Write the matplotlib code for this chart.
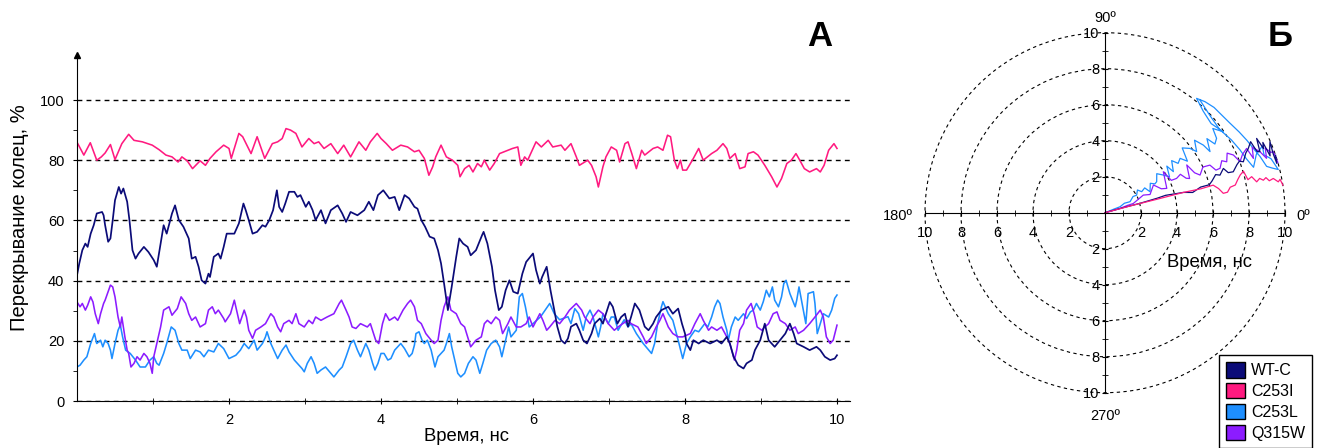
import matplotlib.pyplot as plt
import numpy as np
from matplotlib.patches import Patch
from matplotlib.ticker import FuncFormatter

plt.rcParams['font.family'] = ['Liberation Sans', 'DejaVu Sans']

names = ['WT-C', 'C253I', 'C253L', 'Q315W']
colors = {'WT-C': '#0b0b78', 'C253I': '#ff1a80', 'C253L': '#1e8fff', 'Q315W': '#8c1cff'}

# ring overlap, % vs time, ns
wt_c = [(0.00, 41.8), (0.03, 45.7), (0.07, 50.1), (0.11, 52.3), (0.14, 51.2), (0.18, 55.6), (0.22, 58.4),
        (0.26, 62.3), (0.33, 62.8), (0.35, 61.7), (0.37, 58.4), (0.41, 52.9), (0.44, 54.0), (0.47, 60.1),
        (0.50, 66.7), (0.55, 71.1), (0.58, 68.9), (0.61, 70.6), (0.66, 66.2), (0.69, 60.1), (0.73, 50.1),
        (0.77, 47.3), (0.81, 49.0), (0.88, 51.2), (0.94, 49.5), (1.01, 46.8), (1.05, 44.6), (1.10, 52.3),
        (1.14, 58.4), (1.18, 55.6), (1.25, 62.3), (1.29, 65.0), (1.34, 60.1), (1.40, 57.9), (1.47, 54.0),
        (1.51, 47.3), (1.56, 47.9), (1.60, 44.6), (1.64, 40.1), (1.69, 39.0), (1.73, 42.3), (1.75, 41.2),
        (1.80, 47.9), (1.86, 49.0), (1.89, 47.3), (1.93, 51.2), (1.97, 55.6), (2.07, 55.6), (2.13, 59.0),
        (2.19, 65.6), (2.22, 63.4), (2.26, 60.1), (2.31, 55.6), (2.37, 56.2), (2.44, 58.4), (2.48, 57.9),
        (2.53, 60.1), (2.58, 63.4), (2.63, 70.0), (2.66, 64.5), (2.70, 62.8), (2.74, 65.6), (2.79, 69.5),
        (2.86, 69.5), (2.90, 67.8), (2.94, 68.4), (3.01, 64.5), (3.05, 66.2), (3.10, 63.4), (3.14, 60.1),
        (3.21, 63.4), (3.27, 59.0), (3.34, 63.4), (3.43, 65.0), (3.49, 62.3), (3.54, 59.5), (3.60, 62.8),
        (3.69, 61.7), (3.78, 63.4), (3.84, 66.2), (3.90, 63.4), (3.96, 68.4), (4.03, 70.0), (4.11, 67.3),
        (4.18, 67.8), (4.24, 63.4), (4.31, 68.4), (4.37, 67.3), (4.44, 64.5), (4.48, 63.9), (4.53, 60.1),
        (4.58, 57.9), (4.64, 54.6), (4.70, 54.0), (4.75, 50.1), (4.79, 45.7), (4.83, 39.0), (4.88, 30.2),
        (4.93, 37.9), (4.99, 47.9), (5.03, 54.0), (5.08, 52.3), (5.14, 51.2), (5.18, 48.4), (5.25, 50.1),
        (5.33, 55.1), (5.35, 56.2), (5.40, 52.3), (5.46, 44.6), (5.50, 36.8), (5.55, 30.2), (5.59, 31.3),
        (5.64, 36.8), (5.69, 40.1), (5.74, 36.3), (5.80, 35.7), (5.86, 42.3), (5.91, 46.2), (6.00, 49.0),
        (6.04, 43.5), (6.09, 39.0), (6.12, 41.2), (6.18, 44.6), (6.23, 36.8), (6.28, 30.2), (6.32, 24.7),
        (6.37, 20.2), (6.42, 19.1), (6.46, 20.8), (6.50, 24.7), (6.57, 25.7), (6.61, 23.5), (6.66, 20.2),
        (6.71, 19.1), (6.77, 22.4), (6.81, 25.7), (6.88, 27.4), (6.92, 25.7), (6.96, 29.0), (7.01, 32.9),
        (7.05, 31.3), (7.11, 25.7), (7.16, 27.9), (7.21, 29.0), (7.25, 24.7), (7.29, 27.9), (7.34, 32.4),
        (7.40, 30.2), (7.47, 24.7), (7.52, 23.5), (7.58, 25.7), (7.62, 27.9), (7.69, 30.2), (7.78, 31.3),
        (7.84, 29.0), (7.91, 30.7), (7.96, 25.7), (8.00, 22.4), (8.02, 19.1), (8.07, 16.9), (8.11, 20.2),
        (8.18, 19.1), (8.24, 20.2), (8.33, 19.1), (8.42, 20.2), (8.48, 19.1), (8.55, 21.3), (8.59, 19.1),
        (8.64, 14.7), (8.70, 11.9), (8.77, 10.8), (8.81, 12.5), (8.88, 13.6), (8.92, 16.9), (8.99, 20.2),
        (9.05, 25.7), (9.10, 20.2), (9.18, 18.0), (9.25, 20.2), (9.32, 22.4), (9.38, 25.7), (9.43, 22.4),
        (9.47, 19.1), (9.56, 18.0), (9.64, 16.9), (9.73, 18.0), (9.78, 16.9), (9.84, 14.7), (9.91, 13.6),
        (9.97, 14.1), (10.00, 15.2)]

c253i = [(0.01, 85.5), (0.09, 81.7), (0.175, 85.8), (0.26, 80.0), (0.32, 81.1), (0.37, 82.4), (0.44, 85.2),
         (0.50, 80.2), (0.59, 85.5), (0.68, 88.6), (0.75, 86.6), (0.86, 86.1), (0.99, 85.0), (1.08, 83.5),
         (1.17, 81.7), (1.25, 81.1), (1.33, 79.4), (1.38, 81.1), (1.45, 79.8), (1.52, 77.2), (1.62, 79.8),
         (1.69, 78.3), (1.75, 80.6), (1.83, 82.8), (1.93, 85.0), (2.00, 83.9), (2.03, 80.6), (2.13, 88.9),
         (2.18, 87.8), (2.29, 82.2), (2.37, 87.8), (2.47, 80.6), (2.57, 85.5), (2.64, 86.1), (2.70, 87.2),
         (2.75, 90.5), (2.81, 90.0), (2.88, 88.9), (2.96, 84.4), (3.05, 87.2), (3.12, 85.5), (3.18, 86.1),
         (3.25, 83.9), (3.34, 85.5), (3.43, 82.2), (3.51, 85.0), (3.60, 81.1), (3.71, 86.1), (3.80, 83.3),
         (3.86, 86.1), (3.95, 88.9), (4.00, 87.2), (4.07, 85.5), (4.15, 83.3), (4.26, 85.0), (4.35, 84.4),
         (4.44, 82.8), (4.50, 83.3), (4.57, 80.6), (4.63, 75.0), (4.68, 77.8), (4.72, 81.1), (4.79, 85.0),
         (4.86, 81.1), (4.94, 80.0), (5.01, 78.3), (5.04, 74.5), (5.10, 77.2), (5.16, 78.3), (5.21, 76.1),
         (5.27, 78.9), (5.32, 77.8), (5.36, 80.0), (5.43, 76.7), (5.49, 78.9), (5.56, 82.2), (5.62, 82.8),
         (5.73, 83.9), (5.80, 84.4), (5.84, 78.3), (5.89, 81.1), (5.93, 80.0), (6.00, 83.9), (6.04, 86.1),
         (6.11, 84.4), (6.20, 86.6), (6.26, 84.4), (6.37, 85.0), (6.42, 83.3), (6.50, 85.5), (6.57, 81.1),
         (6.61, 78.3), (6.72, 80.0), (6.77, 78.3), (6.83, 74.5), (6.86, 71.1), (6.92, 77.8), (6.96, 81.1),
         (7.03, 84.4), (7.10, 83.3), (7.14, 79.4), (7.21, 85.5), (7.25, 86.1), (7.30, 82.2), (7.36, 77.2),
         (7.43, 83.3), (7.47, 81.7), (7.58, 83.9), (7.64, 84.4), (7.71, 83.3), (7.77, 88.3), (7.81, 87.8),
         (7.86, 80.0), (7.90, 77.2), (7.94, 80.0), (7.97, 76.7), (8.02, 76.7), (8.11, 80.6), (8.18, 83.9),
         (8.24, 80.0), (8.35, 82.2), (8.42, 83.3), (8.50, 85.5), (8.55, 83.9), (8.59, 80.6), (8.66, 82.2),
         (8.72, 77.2), (8.79, 77.8), (8.83, 82.2), (8.90, 82.8), (8.96, 81.7), (9.05, 78.3), (9.14, 74.5),
         (9.21, 71.1), (9.27, 73.9), (9.34, 78.9), (9.40, 80.0), (9.46, 82.2), (9.51, 80.0), (9.57, 77.2),
         (9.64, 76.1), (9.73, 77.2), (9.78, 76.1), (9.83, 78.3), (9.89, 83.3), (9.96, 85.5), (10.00, 83.9)]

c253l = [(0.00, 11.3), (0.04, 11.9), (0.09, 13.6), (0.13, 14.7), (0.18, 19.1), (0.23, 22.4), (0.26, 19.1),
         (0.31, 20.2), (0.34, 18.0), (0.37, 20.2), (0.41, 19.1), (0.44, 16.9), (0.46, 14.1), (0.50, 19.1),
         (0.54, 23.5), (0.57, 25.2), (0.60, 21.3), (0.64, 16.9), (0.70, 15.8), (0.77, 13.6), (0.83, 11.3),
         (0.90, 11.3), (0.96, 13.6), (1.01, 14.7), (1.05, 12.5), (1.08, 11.9), (1.14, 15.8), (1.18, 19.1),
         (1.24, 24.6), (1.29, 23.5), (1.34, 19.1), (1.38, 16.9), (1.45, 16.9), (1.49, 14.1), (1.56, 16.9),
         (1.62, 16.3), (1.67, 14.7), (1.73, 16.9), (1.80, 16.3), (1.86, 19.1), (1.93, 17.4), (2.00, 14.1),
         (2.09, 15.2), (2.15, 16.9), (2.20, 19.1), (2.26, 17.4), (2.33, 20.2), (2.37, 16.9), (2.44, 19.1),
         (2.48, 21.3), (2.50, 23.0), (2.55, 19.1), (2.59, 16.9), (2.64, 14.1), (2.70, 16.9), (2.75, 18.6),
         (2.79, 16.3), (2.86, 13.6), (2.96, 10.8), (2.99, 9.7), (3.03, 12.5), (3.08, 14.7), (3.12, 12.5),
         (3.16, 9.2), (3.21, 10.3), (3.27, 11.3), (3.34, 9.2), (3.38, 8.0), (3.45, 10.3), (3.49, 11.3),
         (3.54, 14.7), (3.60, 19.1), (3.64, 20.2), (3.69, 16.9), (3.73, 14.7), (3.80, 19.1), (3.84, 16.9),
         (3.89, 12.5), (3.92, 10.3), (3.96, 12.5), (4.00, 15.8), (4.04, 15.8), (4.09, 13.6), (4.13, 14.1),
         (4.18, 16.9), (4.22, 18.0), (4.26, 19.1), (4.31, 17.4), (4.37, 14.7), (4.41, 15.8), (4.44, 18.6),
         (4.46, 22.4), (4.50, 23.0), (4.54, 20.2), (4.57, 19.1), (4.61, 20.2), (4.66, 16.9), (4.69, 13.6),
         (4.71, 11.3), (4.75, 14.7), (4.79, 15.8), (4.83, 16.9), (4.86, 19.1), (4.90, 22.4), (4.93, 18.0),
         (4.96, 14.7), (5.01, 9.2), (5.05, 8.0), (5.10, 9.2), (5.15, 12.5), (5.21, 14.7), (5.25, 13.6),
         (5.30, 9.2), (5.34, 12.5), (5.39, 16.9), (5.45, 19.1), (5.51, 20.2), (5.56, 18.0), (5.59, 14.7),
         (5.64, 20.2), (5.68, 24.6), (5.71, 21.3), (5.78, 23.5), (5.82, 34.6), (5.86, 35.7), (5.90, 31.3),
         (5.95, 24.6), (6.00, 25.7), (6.10, 28.0), (6.22, 32.4), (6.28, 29.0), (6.35, 27.0), (6.46, 28.0),
         (6.50, 25.7), (6.55, 30.7), (6.60, 29.0), (6.66, 23.5), (6.70, 27.9), (6.75, 30.2), (6.79, 27.9),
         (6.86, 21.3), (6.89, 24.6), (6.92, 29.0), (6.99, 25.7), (7.03, 27.9), (7.07, 27.9), (7.12, 23.5),
         (7.20, 27.0), (7.25, 24.6), (7.29, 25.7), (7.36, 22.4), (7.45, 19.1), (7.56, 15.8), (7.60, 19.1),
         (7.64, 25.7), (7.69, 31.3), (7.71, 33.0), (7.78, 29.0), (7.84, 26.8), (7.91, 20.2), (7.97, 14.1),
         (8.02, 19.1), (8.07, 21.3), (8.13, 23.5), (8.18, 23.0), (8.26, 25.7), (8.30, 24.6), (8.35, 27.9),
         (8.39, 31.3), (8.43, 33.5), (8.46, 32.4), (8.50, 27.9), (8.55, 23.5), (8.57, 20.2), (8.61, 24.6),
         (8.66, 27.9), (8.70, 26.8), (8.77, 29.0), (8.81, 27.4), (8.86, 29.6), (8.90, 30.2), (8.94, 32.4),
         (8.99, 30.2), (9.03, 33.0), (9.07, 36.8), (9.11, 34.6), (9.15, 37.9), (9.18, 33.5), (9.23, 31.3),
         (9.27, 34.6), (9.30, 39.0), (9.33, 40.1), (9.38, 35.7), (9.45, 31.3), (9.47, 33.5), (9.50, 37.9),
         (9.54, 32.4), (9.59, 25.7), (9.62, 35.7), (9.69, 36.3), (9.71, 32.4), (9.74, 22.4), (9.78, 25.7),
         (9.82, 29.0), (9.89, 27.9), (9.93, 30.2), (9.97, 34.1), (10.00, 35.2)]

q315w = [(0.00, 32.9), (0.04, 31.3), (0.07, 32.4), (0.11, 30.2), (0.14, 31.8), (0.18, 34.6), (0.21, 32.9),
         (0.24, 29.0), (0.28, 25.7), (0.31, 29.0), (0.35, 32.4), (0.37, 33.5), (0.41, 36.3), (0.44, 38.5),
         (0.47, 37.9), (0.50, 34.6), (0.54, 27.9), (0.57, 24.6), (0.59, 27.9), (0.63, 21.3), (0.66, 16.9),
         (0.68, 15.8), (0.71, 11.3), (0.75, 12.5), (0.79, 14.7), (0.83, 13.6), (0.88, 15.8), (0.92, 14.7),
         (0.96, 12.5), (0.99, 9.2), (1.01, 14.7), (1.05, 19.1), (1.10, 24.6), (1.14, 30.2), (1.21, 31.3),
         (1.25, 28.5), (1.32, 30.7), (1.37, 34.6), (1.43, 32.4), (1.47, 29.0), (1.51, 26.8), (1.56, 27.9),
         (1.62, 24.6), (1.69, 25.7), (1.73, 30.2), (1.78, 31.3), (1.82, 29.0), (1.86, 30.2), (1.93, 27.4),
         (1.95, 26.3), (2.02, 29.0), (2.07, 33.5), (2.11, 29.0), (2.14, 25.7), (2.20, 30.2), (2.23, 27.9),
         (2.26, 23.5), (2.31, 20.8), (2.35, 23.5), (2.42, 24.6), (2.48, 25.7), (2.55, 29.0), (2.59, 27.9),
         (2.64, 24.6), (2.68, 23.0), (2.72, 25.7), (2.79, 26.8), (2.83, 25.7), (2.88, 29.0), (2.92, 25.7),
         (2.99, 24.6), (3.05, 26.8), (3.10, 25.7), (3.14, 27.9), (3.21, 26.8), (3.29, 27.9), (3.38, 29.0),
         (3.45, 32.4), (3.48, 33.5), (3.54, 30.2), (3.58, 27.9), (3.62, 24.6), (3.67, 24.1), (3.73, 25.7),
         (3.82, 24.6), (3.86, 25.7), (3.93, 20.2), (3.97, 19.1), (4.02, 25.7), (4.06, 29.0), (4.11, 26.8),
         (4.18, 27.9), (4.22, 26.8), (4.29, 30.2), (4.35, 32.4), (4.39, 33.5), (4.44, 31.3), (4.48, 26.8),
         (4.53, 25.7), (4.59, 22.4), (4.66, 20.2), (4.70, 19.1), (4.75, 20.2), (4.79, 26.8), (4.83, 31.3),
         (4.88, 34.6), (4.92, 30.2), (4.99, 29.0), (5.05, 25.7), (5.10, 24.6), (5.14, 21.3), (5.18, 18.0),
         (5.25, 20.2), (5.32, 21.3), (5.36, 25.7), (5.40, 26.8), (5.45, 25.7), (5.51, 27.9), (5.56, 26.8),
         (5.60, 22.4), (5.67, 25.7), (5.71, 27.9), (5.78, 24.6), (5.84, 24.6), (5.91, 25.7), (5.95, 27.9),
         (6.00, 24.6), (6.09, 29.0), (6.13, 26.8), (6.18, 23.5), (6.22, 24.6), (6.29, 26.8), (6.35, 25.7),
         (6.42, 27.9), (6.48, 30.2), (6.57, 32.4), (6.64, 30.2), (6.68, 27.9), (6.75, 25.7), (6.79, 27.9),
         (6.86, 30.2), (6.92, 29.0), (6.99, 25.7), (7.07, 23.5), (7.12, 24.6), (7.18, 25.7), (7.25, 26.8),
         (7.29, 25.7), (7.38, 24.6), (7.45, 21.3), (7.49, 19.1), (7.56, 21.3), (7.62, 24.6), (7.67, 26.8),
         (7.71, 29.0), (7.78, 24.6), (7.84, 22.4), (7.91, 21.3), (7.97, 21.3), (8.07, 22.4), (8.13, 25.7),
         (8.20, 29.0), (8.24, 26.8), (8.31, 23.5), (8.35, 24.6), (8.42, 23.5), (8.48, 24.6), (8.55, 21.3),
         (8.59, 19.1), (8.65, 13.6), (8.68, 16.9), (8.72, 23.5), (8.77, 25.7), (8.81, 30.2), (8.87, 32.4),
         (8.91, 29.0), (8.95, 24.6), (9.01, 23.5), (9.05, 24.6), (9.10, 25.7), (9.16, 29.0), (9.21, 29.6),
         (9.25, 26.8), (9.32, 25.7), (9.38, 23.5), (9.45, 24.6), (9.49, 22.4), (9.56, 23.5), (9.64, 25.7),
         (9.71, 27.9), (9.78, 30.2), (9.82, 27.9), (9.86, 21.3), (9.91, 19.1), (9.95, 20.2), (10.00, 25.2)]

# polar trajectories: (time, ns ; angle, degrees)
wt_c_polar = [(0, 15), (1, 15.5), (2, 15), (3, 15.5), (3.5, 16), (4.5, 14.5), (5, 13), (5.5, 15), (6.0, 15),
              (6.2, 16.5), (6.5, 19), (6.72, 18.1), (7.02, 20.5), (7.2, 18), (7.48, 17.7), (7.8, 20), (8.0, 21),
              (8.19, 20.2), (8.5, 23), (8.7, 24), (9.0, 26), (9.1, 22), (9.25, 21.5), (9.38, 26.1), (9.5, 22),
              (9.6, 24), (9.7, 19), (9.8, 21), (9.98, 23.3), (9.9, 19.4), (9.93, 16), (10.0, 18.6)]
c253i_polar = [(0, 15), (1.5, 15), (3, 14.5), (4.5, 14.5), (5.5, 14), (6.2, 14.3), (6.45, 12), (6.66, 9.3),
               (6.9, 9.5), (7.1, 11.5), (7.4, 12), (7.6, 14), (7.8, 15.6), (8.03, 16.7), (8.15, 13),
               (8.39, 13.8), (8.6, 11.5), (8.8, 12.5), (8.98, 11.6), (9.15, 12.3), (9.3, 11), (9.54, 11.5),
               (9.78, 10.1), (9.9, 10.8), (10.0, 8.8)]
c253l_polar = [(0, 25), (0.5, 22), (0.9, 21.6), (1.2, 26), (1.52, 23.7), (1.8, 30), (2.01, 29), (2.2, 35),
               (2.35, 29.8), (2.6, 32), (2.76, 25), (3.0, 33), (3.2, 30), (3.35, 31), (3.6, 37), (3.86, 32.8),
               (4.1, 29), (4.3, 37), (4.43, 31), (4.7, 38), (4.9, 34), (5.15, 35.9), (5.4, 32), (5.6, 40),
               (5.92, 37.1), (6.12, 33.7), (6.4, 39), (6.63, 34.5), (6.75, 30.2), (7.0, 36), (7.2, 32),
               (7.45, 33.7), (7.6, 38), (7.96, 34.4), (7.7, 40), (7.85, 46), (8.14, 51.3), (8.3, 48),
               (8.42, 44), (8.53, 36), (8.7, 31), (8.85, 27), (9.0, 23), (9.16, 20), (9.34, 16), (9.6, 15),
               (9.92, 14), (9.7, 18), (9.4, 20), (9.5, 23), (9.0, 21), (8.63, 17), (8.4, 21), (8.27, 25),
               (8.1, 30), (7.87, 36), (7.95, 43), (8.19, 50)]
q315w_polar = [(0, 16), (0.86, 16), (1.3, 18), (1.65, 18), (2.0, 22), (2.34, 24.7), (2.7, 22), (3.1, 29.8),
               (3.4, 23), (3.69, 21.5), (3.96, 35.1), (4.1, 26), (4.41, 25.6), (4.7, 27), (4.9, 23), (5.07, 22),
               (5.26, 30.3), (5.45, 24), (5.68, 21.6), (6.0, 25), (6.4, 24.4), (6.6, 21), (6.85, 21.1),
               (7.1, 24), (7.33, 22.7), (7.55, 26), (7.82, 24.2), (8.02, 20.7), (8.3, 23), (8.64, 24.4),
               (8.78, 20.1), (8.95, 24), (9.25, 21.5), (9.47, 18.6), (9.6, 22), (9.8, 20), (9.95, 19.9),
               (10.0, 16.2)]

series = {'WT-C': wt_c, 'C253I': c253i, 'C253L': c253l, 'Q315W': q315w}
polar_series = {'WT-C': wt_c_polar, 'C253I': c253i_polar, 'C253L': c253l_polar, 'Q315W': q315w_polar}
draw_order = ['C253L', 'Q315W', 'WT-C', 'C253I']

fig = plt.figure(figsize=(13.17, 4.48), dpi=100)
W, H = 1317, 448

# --- panel A: overlap vs time ---
ax = fig.add_axes([77 / W, 47 / H, 773 / W, 346 / H])
for name in draw_order:
    t, v = zip(*series[name])
    ax.plot(t, v, color=colors[name], lw=1.15 if name != 'WT-C' else 1.25)
ax.set_xlim(0, 773 / 76)
ax.set_ylim(0, 346 / 3.01)
ax.spines['top'].set_visible(False)
ax.spines['right'].set_visible(False)
ax.set_xticks([2, 4, 6, 8, 10])
ax.set_xticks([1, 3, 5, 7, 9], minor=True)
ax.set_yticks(range(0, 101, 20))
ax.set_yticks(range(10, 100, 20), minor=True)
ax.tick_params(axis='x', which='both', direction='inout', length=5, labelsize=10.5, pad=6)
ax.tick_params(axis='y', which='both', direction='out', length=3, labelsize=10.5, pad=6)
ax.set_axisbelow(True)
ax.grid(axis='y', color='black', ls=(0, (3.5, 3)), lw=1.0)
ax.plot(0, 1, marker='^', color='black', ms=5, transform=ax.transAxes, clip_on=False)

fig.text(20 / W, 1 - 218 / H, 'Перекрывание колец, %', rotation=90, ha='center', va='center', fontsize=14.5)
fig.text(467 / W, 1 - 436 / H, 'Время, нс', ha='center', va='center', fontsize=13.3)
fig.text(820 / W, 1 - 36 / H, 'А', ha='center', va='center', fontsize=25, fontweight='bold')
fig.text(1280 / W, 1 - 36 / H, 'Б', ha='center', va='center', fontsize=25, fontweight='bold')

# --- panel Б: polar view ---
cx, cy, unit = 1105, 212.7, 18.0
rmax = 10.1
axr = fig.add_axes([(cx - rmax * unit) / W, (H - cy - rmax * unit) / H, 2 * rmax * unit / W, 2 * rmax * unit / H],
                   projection='polar')
for name in draw_order:
    r, a = zip(*polar_series[name])
    axr.plot(np.deg2rad(a), r, color=colors[name], lw=0.9)
axr.set_ylim(0, rmax)
axr.set_yticks([2, 4, 6, 8, 10])
axr.set_yticklabels([])
axr.set_xticks([])
axr.grid(axis='y', color='black', ls=(0, (3, 3)), lw=0.8)
axr.spines['polar'].set_visible(False)

rect = [(cx - 10 * unit) / W, (H - cy - 10 * unit) / H, 20 * unit / W, 20 * unit / H]
axp = fig.add_axes(rect)
axp.set_xlim(-10, 10)
axp.set_ylim(-10, 10)
axp.patch.set_visible(False)
for s in ['top', 'right']:
    axp.spines[s].set_visible(False)
axp.spines['left'].set_position(('data', 0))
axp.spines['bottom'].set_position(('data', 0))
major = [-10, -8, -6, -4, -2, 2, 4, 6, 8, 10]
minor = [-9, -7, -5, -3, -1, 1, 3, 5, 7, 9]
axp.set_xticks(major)
axp.set_yticks(major)
axp.set_xticks(minor, minor=True)
axp.set_yticks(minor, minor=True)
absfmt = FuncFormatter(lambda v, p: f'{abs(v):g}')
axp.xaxis.set_major_formatter(absfmt)
axp.yaxis.set_major_formatter(absfmt)
axp.tick_params(axis='x', which='both', direction='inout', length=5, labelsize=10.5, pad=7)
axp.tick_params(axis='y', which='both', direction='inout', length=5, labelsize=10.5, pad=1.5)
axp.text(0, 10.84, '90º', ha='center', va='center', fontsize=10.5)
axp.text(-11.5, -0.18, '180º', ha='center', va='center', fontsize=10.5)
axp.text(11.0, -0.18, '0º', ha='center', va='center', fontsize=10.5)
axp.text(0, -11.3, '270º', ha='center', va='center', fontsize=10.5)
axp.text(5.8, -2.75, 'Время, нс', ha='center', va='center', fontsize=13.3)

handles = [Patch(facecolor=colors[n], edgecolor='black', lw=1) for n in names]
fig.legend(handles, names, loc='upper left', bbox_to_anchor=(1219 / W, 1 - 355 / H), fontsize=11.5,
           frameon=True, fancybox=False, edgecolor='black', framealpha=1, borderpad=0.45,
           labelspacing=0.3, handlelength=1.2, handleheight=1.1, handletextpad=0.35, borderaxespad=0)

fig.savefig('out.png', dpi=100)
